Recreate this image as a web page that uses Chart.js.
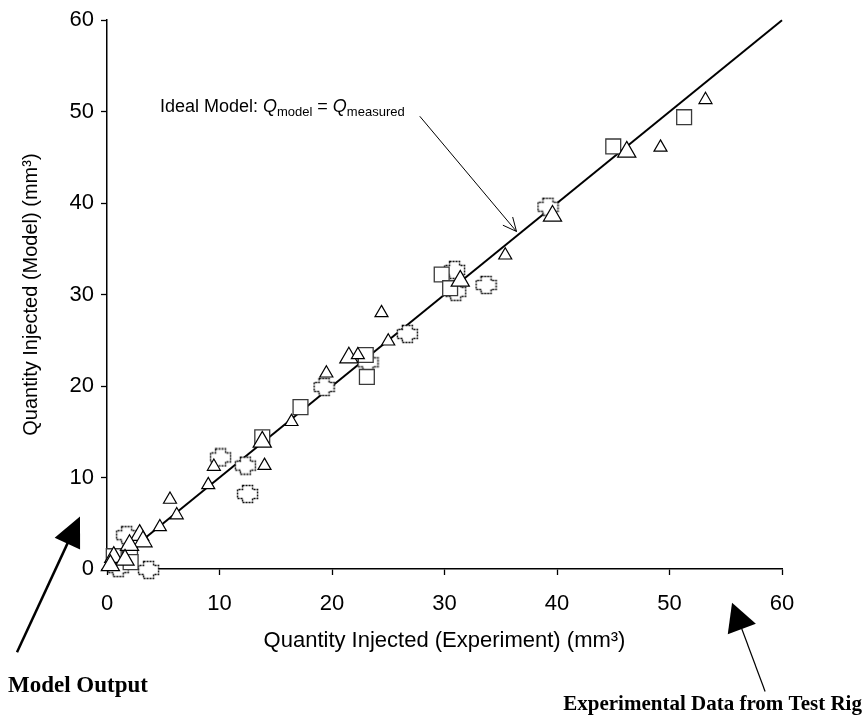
<!DOCTYPE html>
<html lang="en">
<head>
    <meta charset="UTF-8">
    <title>Quantity Injected: Model vs Experiment</title>
    <script src="https://cdn.jsdelivr.net/npm/chart.js"></script>
    <style>
        html, body {
            margin: 0;
            padding: 0;
            background: #fff;
        }
        canvas {
            display: block;
        }
    </style>
</head>
<body>
    <canvas id="qChart" width="864" height="719"></canvas>

    <script>
        // Quantity injected (mm3): x = experiment (test rig), y = model output
        const trianglesLarge = [
            [39.6, 38.6], [46.2, 45.6], [31.4, 31.5], [21.5, 23.1], [13.8, 13.9],
            [2.9, 3.7], [3.2, 3.0], [2.0, 2.6], [0.6, 1.3], [1.6, 1.0], [0.3, 0.4]
        ];
        const trianglesSmall = [
            [53.2, 51.3], [49.2, 46.1], [35.4, 34.3], [24.4, 28.0], [25.0, 24.9],
            [22.3, 23.4], [19.5, 21.4], [16.4, 16.1], [14.0, 11.3], [9.5, 11.2],
            [9.0, 9.2], [5.6, 7.6], [6.2, 5.9], [4.7, 4.6]
        ];
        const squares = [
            [51.3, 49.4], [45.0, 46.2], [29.75, 32.2], [30.5, 30.7], [23.0, 23.4],
            [23.1, 21.0], [17.2, 17.7], [13.8, 14.4], [2.05, 1.7], [0.6, 1.4], [2.1, 0.75]
        ];
        const crosses = [
            [39.2, 39.6], [30.9, 32.7], [31.0, 30.3], [33.7, 31.05], [26.7, 25.7],
            [23.2, 22.6], [19.3, 19.9], [10.1, 12.2], [12.3, 11.3], [12.5, 8.2],
            [1.75, 3.7], [1.0, 0.1], [3.7, -0.1]
        ];
        // ideal model: Q_model = Q_measured
        const idealLine = [0, 60];
        const axisTicks = [0, 10, 20, 30, 40, 50, 60];

        const toPoints = arr => arr.map(([x, y]) => ({ x, y }));

        // dotted plus-shaped marker
        function crossMarker(w, h) {
            const c = document.createElement('canvas');
            c.width = w + 3;
            c.height = h + 3;
            const g = c.getContext('2d');
            const a = Math.round(w * 0.26), b = Math.round(h * 0.26);
            g.translate(1.5, 1.5);
            g.beginPath();
            g.moveTo(a, 0); g.lineTo(w - a, 0); g.lineTo(w - a, b); g.lineTo(w, b);
            g.lineTo(w, h - b); g.lineTo(w - a, h - b); g.lineTo(w - a, h); g.lineTo(a, h);
            g.lineTo(a, h - b); g.lineTo(0, h - b); g.lineTo(0, b); g.lineTo(a, b);
            g.closePath();
            g.fillStyle = '#fff';
            g.fill();
            g.setLineDash([2, 1]);
            g.lineWidth = 1.4;
            g.strokeStyle = '#000';
            g.stroke();
            return c;
        }

        const SANS = '"Liberation Sans", Arial, Helvetica, sans-serif';
        const SERIF = '"Liberation Serif", "Times New Roman", serif';

        function drawFilledArrow(ctx, x0, y0, x1, y1, lineW, headLen, headHalf) {
            const dx = x1 - x0, dy = y1 - y0;
            const len = Math.hypot(dx, dy);
            const ux = dx / len, uy = dy / len;
            const bx = x1 - ux * headLen, by = y1 - uy * headLen;
            ctx.lineWidth = lineW;
            ctx.beginPath();
            ctx.moveTo(x0, y0);
            ctx.lineTo(bx + ux * 2, by + uy * 2);
            ctx.stroke();
            ctx.beginPath();
            ctx.moveTo(x1, y1);
            ctx.lineTo(bx - uy * headHalf, by + ux * headHalf);
            ctx.lineTo(bx + uy * headHalf, by - ux * headHalf);
            ctx.closePath();
            ctx.fill();
        }

        function drawOpenArrow(ctx, x0, y0, x1, y1, barb) {
            const ang = Math.atan2(y1 - y0, x1 - x0) + Math.PI;
            ctx.lineWidth = 1;
            ctx.beginPath();
            ctx.moveTo(x0, y0);
            ctx.lineTo(x1, y1);
            [-0.44, 0.44].forEach(d => {
                ctx.moveTo(x1, y1);
                ctx.lineTo(x1 + Math.cos(ang + d) * barb, y1 + Math.sin(ang + d) * barb);
            });
            ctx.stroke();
        }

        const annotations = {
            id: 'annotations',
            afterDraw(chart) {
                const { ctx, scales: { x, y } } = chart;
                const px = v => x.getPixelForValue(v);
                const py = v => y.getPixelForValue(v);
                ctx.save();
                ctx.fillStyle = '#000';
                ctx.strokeStyle = '#000';
                ctx.textBaseline = 'alphabetic';
                ctx.textAlign = 'left';

                // equation label with subscripts
                let cx = px(4.7);
                const base = py(50.0);
                const parts = [
                    ['Ideal Model: ', '18px ' + SANS, 0],
                    ['Q', 'italic 18px ' + SANS, 0],
                    ['model', '13px ' + SANS, 4],
                    [' = ', '18px ' + SANS, 0],
                    ['Q', 'italic 18px ' + SANS, 0],
                    ['measured', '13px ' + SANS, 4]
                ];
                parts.forEach(([t, f, dy]) => {
                    ctx.font = f;
                    ctx.fillText(t, cx, base + dy);
                    cx += ctx.measureText(t).width;
                });
                drawOpenArrow(ctx, px(27.8), py(49.5), px(36.4), py(36.9), 15);

                // arrows pointing at the two axes
                drawFilledArrow(ctx, px(-8.0), py(-9.1), px(-2.4), py(5.74), 2.5, 30, 14);
                drawFilledArrow(ctx, px(58.5), py(-13.4), px(55.56), py(-3.68), 1.2, 28, 15);

                ctx.font = 'bold 23px ' + SERIF;
                ctx.fillText('Model Output', px(-8.8), py(-13.4));
                ctx.font = 'bold 21px ' + SERIF;
                ctx.textAlign = 'right';
                ctx.fillText('Experimental Data from Test Rig', px(67.1), py(-15.4));
                ctx.restore();
            }
        };

        const axisOptions = (titleText, titleSize, titlePad) => ({
            type: 'linear',
            min: axisTicks[0],
            max: axisTicks[axisTicks.length - 1],
            afterBuildTicks: scale => {
                scale.ticks = axisTicks.map(v => ({ value: v }));
            },
            grid: {
                drawOnChartArea: false,
                drawTicks: true,
                tickLength: 6,
                tickWidth: 1.3,
                tickColor: '#000'
            },
            border: { display: true, color: '#000', width: 1.5 },
            ticks: {
                color: '#000',
                font: { family: SANS, size: 22 },
                padding: 7
            },
            title: {
                display: true,
                text: titleText,
                color: '#000',
                font: { family: SANS, size: titleSize },
                padding: titlePad
            }
        });

        const xAxis = axisOptions('Quantity Injected (Experiment) (mm³)', 22, { top: 0, bottom: 65 });
        xAxis.position = 'bottom';
        xAxis.ticks.padding = 16;
        xAxis.afterFit = scale => { scale.height = 150; };

        const yAxis = axisOptions('Quantity Injected (Model) (mm³)', 20, { top: 19, bottom: 0 });
        yAxis.position = 'left';
        yAxis.afterFit = scale => { scale.width = 107; };

        const ctx = document.getElementById('qChart').getContext('2d');
        new Chart(ctx, {
            type: 'scatter',
            data: {
                datasets: [
                    {
                        label: 'Triangles (small)',
                        data: toPoints(trianglesSmall),
                        pointStyle: 'triangle',
                        pointRadius: 7.5,
                        borderColor: '#000',
                        backgroundColor: '#fff',
                        borderWidth: 1.2,
                        clip: false
                    },
                    {
                        label: 'Triangles (large)',
                        data: toPoints(trianglesLarge),
                        pointStyle: 'triangle',
                        pointRadius: 10.5,
                        borderColor: '#000',
                        backgroundColor: '#fff',
                        borderWidth: 1.2,
                        clip: false
                    },
                    {
                        label: 'Squares',
                        data: toPoints(squares),
                        pointStyle: 'rect',
                        pointRadius: 10.5,
                        borderColor: '#3a3a3a',
                        backgroundColor: '#fff',
                        borderWidth: 1.3,
                        clip: false
                    },
                    {
                        label: 'Crosses',
                        data: toPoints(crosses),
                        pointStyle: crossMarker(20, 17),
                        pointRadius: 10,
                        clip: false
                    },
                    {
                        label: 'Ideal model',
                        type: 'line',
                        data: idealLine.map(v => ({ x: v, y: v })),
                        borderColor: '#000',
                        borderWidth: 2,
                        pointRadius: 0,
                        showLine: true,
                        clip: false
                    }
                ]
            },
            options: {
                responsive: false,
                animation: false,
                layout: {
                    padding: { left: 0, right: 82, top: 15, bottom: 0 }
                },
                plugins: {
                    legend: { display: false },
                    tooltip: { enabled: false }
                },
                scales: {
                    x: xAxis,
                    y: yAxis
                }
            },
            plugins: [annotations]
        });
    </script>
</body>
</html>
